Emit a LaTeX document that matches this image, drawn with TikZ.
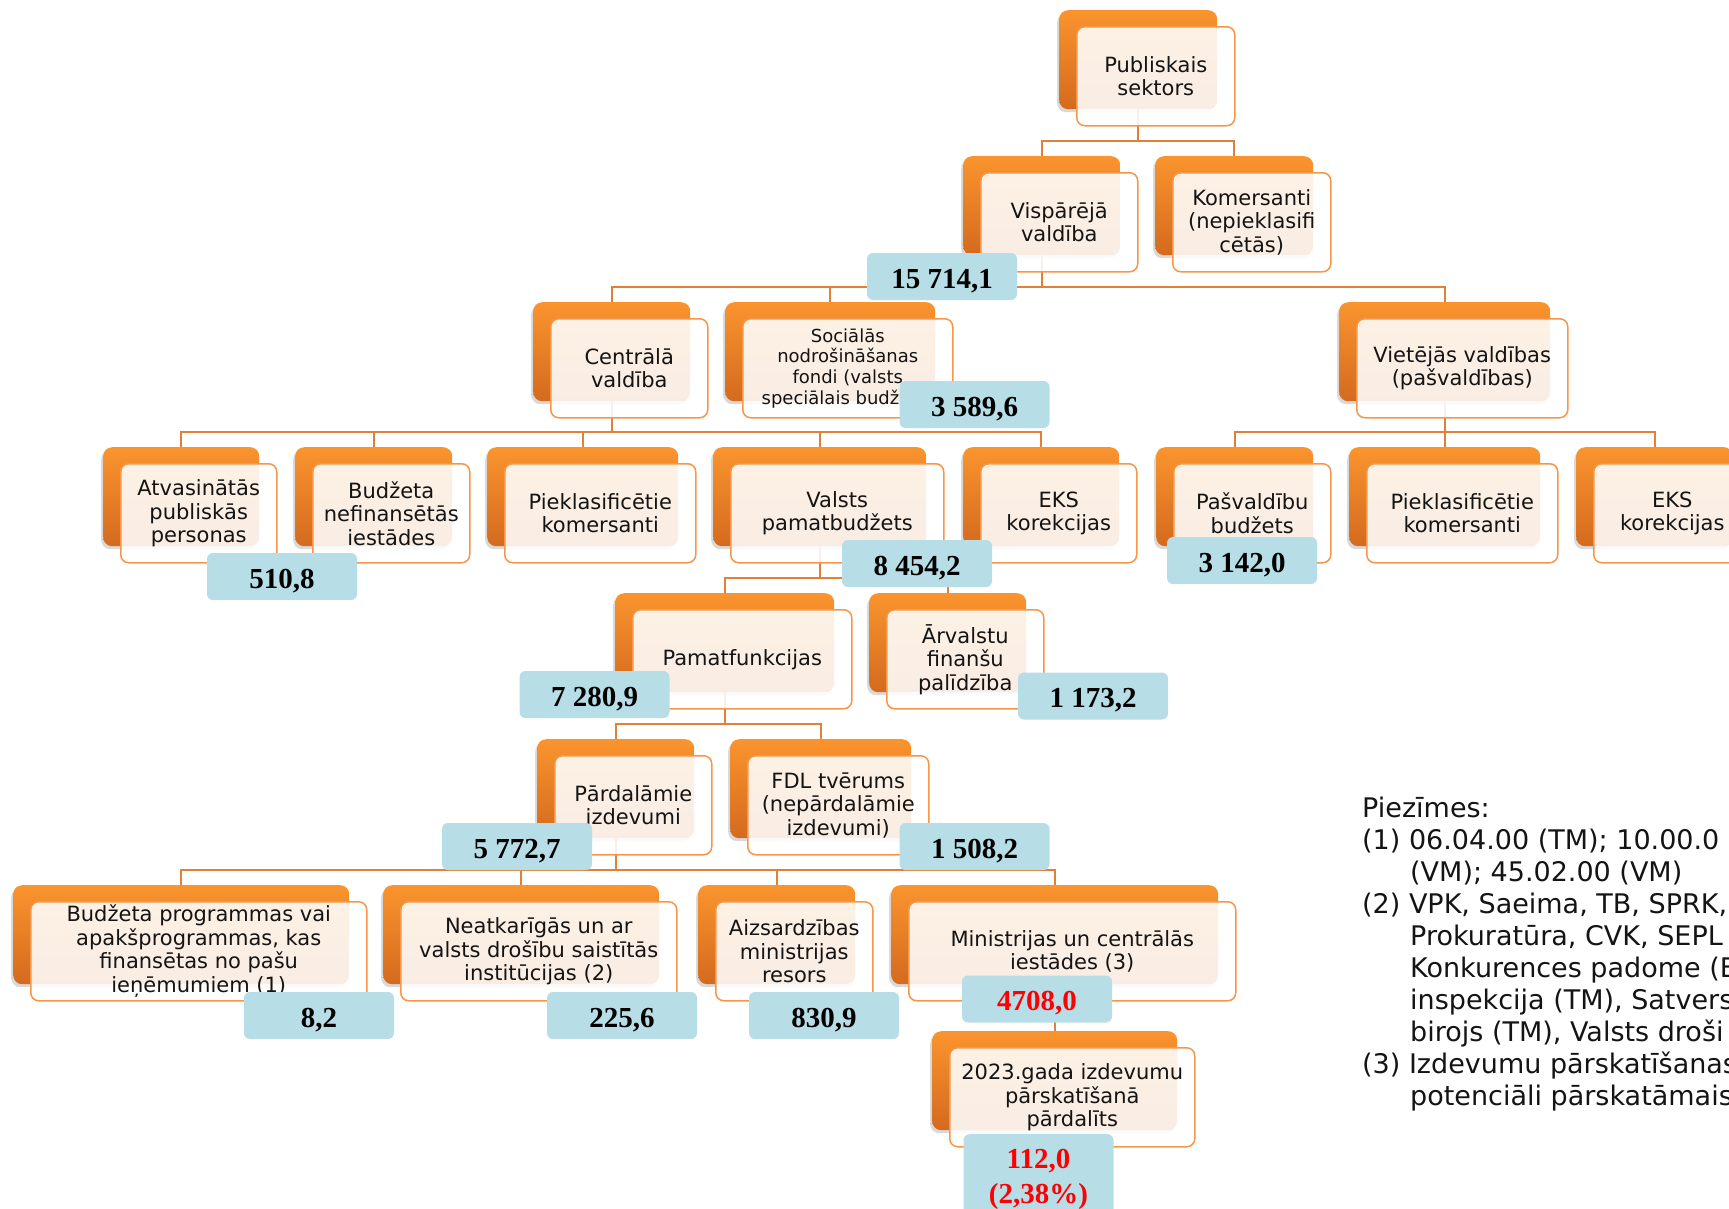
\documentclass[tikz,border=0pt]{standalone}
\usepackage{fontspec}
\setmainfont{DejaVu Sans}
\newfontfamily\numfont{Liberation Serif}
\usetikzlibrary{calc,shadows}
\definecolor{orTop}{RGB}{250,148,46}
\definecolor{orMid}{RGB}{244,138,40}
\definecolor{orBot}{RGB}{212,106,30}
\definecolor{orLine}{RGB}{247,150,72}
\definecolor{connCol}{RGB}{226,128,58}
\definecolor{numBlue}{RGB}{183,221,231}
\definecolor{numRed}{RGB}{255,0,0}
\definecolor{txtCol}{RGB}{20,20,20}
\tikzset{
  backbox/.style={rectangle, rounded corners=9pt, minimum height=99pt, inner sep=0pt,
    anchor=north west, top color=orTop, middle color=orMid, bottom color=orBot,
    drop shadow={shadow xshift=-2pt, shadow yshift=-3pt, opacity=0.15, fill=black}},
  frontbox/.style={rectangle, rounded corners=8pt, minimum height=99pt, inner sep=2pt,
    anchor=north west, draw=orLine, line width=1.5pt, fill=white, fill opacity=0.88,
    text opacity=1, text=txtCol, align=center, font=\fontsize{21}{23.5}\selectfont},
  smallfront/.style={font=\fontsize{18}{20.7}\selectfont},
  connector/.style={draw=connCol, line width=1.6pt},
  numbase/.style={rectangle, rounded corners=6pt, fill=numBlue, minimum width=150pt,
    minimum height=47pt, inner sep=0pt, align=center,
    font=\numfont\bfseries\fontsize{29}{35}\selectfont},
  numbox/.style={numbase, text height=27.5pt, text depth=4pt},
  rednum/.style={text=numRed},
  notetext/.style={anchor=base west, inner sep=0pt, text=txtCol,
    font=\fontsize{27}{32}\selectfont}
}
\newcommand\bk[3]{\node[backbox, minimum width=#3pt] (#1) at (#2) {};}
\newcommand\fr[4][]{\node[frontbox, minimum width=#3pt, #1] (#2f) at ($(#2.north west)+(17,16)$) {#4};}
\newcommand\lnk[2]{\draw[connector] (#1.south) |- ($(#2.north)+(0,-15)$) -- (#2.north);}
\begin{document}
\begin{tikzpicture}[x=1pt,y=-1pt]
\useasboundingbox (0,0) rectangle (1729,1208);
\clip (0,0) rectangle (1729,1208);
% back boxes
\bk{pub}{1059,10}{158}
\bk{visp}{963,156}{157}
\bk{kom}{1155,156}{158}
\bk{centr}{533,302}{157}
\bk{soc}{725,302}{210}
\bk{viet}{1339,302}{211}
\bk{atv}{103,447}{156}
\bk{bnf}{295,447}{157}
\bk{piek}{487,447}{191}
\bk{valsts}{713,447}{213}
\bk{eks}{963,447}{156}
\bk{pasv}{1156,447}{157}
\bk{piekb}{1349,447}{191}
\bk{eksb}{1576,447}{157}
\bk{pamf}{615,593}{219}
\bk{arv}{869,593}{157}
\bk{pard}{537,739}{157}
\bk{fdl}{730,739}{181}
\bk{bprog}{13,885}{336}
\bk{neat}{383,885}{276}
\bk{aizs}{698,885}{157}
\bk{min}{891,885}{327}
\bk{gads}{932,1031}{245}
% connectors
\lnk{pub}{visp}
\lnk{pub}{kom}
\lnk{visp}{centr}
\lnk{visp}{soc}
\lnk{visp}{viet}
\lnk{centr}{atv}
\lnk{centr}{bnf}
\lnk{centr}{piek}
\lnk{centr}{valsts}
\lnk{centr}{eks}
\lnk{viet}{pasv}
\lnk{viet}{piekb}
\lnk{viet}{eksb}
\lnk{valsts}{pamf}
\lnk{valsts}{arv}
\lnk{pamf}{pard}
\lnk{pamf}{fdl}
\lnk{pard}{bprog}
\lnk{pard}{neat}
\lnk{pard}{aizs}
\lnk{pard}{min}
\draw[connector] (min.south) -- (gads.north);
% front boxes
\fr{pub}{158}{Publiskais\\sektors}
\fr{visp}{157}{Vispārējā\\valdība}
\fr{kom}{158}{Komersanti\\(nepieklasifi\\cētās)}
\fr{centr}{157}{Centrālā\\valdība}
\fr[smallfront]{soc}{210}{Sociālās\\nodrošināšanas\\fondi (valsts\\speciālais budžets)}
\fr{viet}{211}{Vietējās valdības\\(pašvaldības)}
\fr{atv}{156}{Atvasinātās\\publiskās\\personas}
\fr{bnf}{157}{Budžeta\\nefinansētās\\iestādes}
\fr{piek}{191}{Pieklasificētie\\komersanti}
\fr{valsts}{213}{Valsts\\pamatbudžets}
\fr{eks}{156}{EKS\\korekcijas}
\fr{pasv}{157}{Pašvaldību\\budžets}
\fr{piekb}{191}{Pieklasificētie\\komersanti}
\fr{eksb}{157}{EKS\\korekcijas}
\fr{pamf}{219}{Pamatfunkcijas}
\fr{arv}{157}{Ārvalstu\\finanšu\\palīdzība}
\fr{pard}{157}{Pārdalāmie\\izdevumi}
\fr{fdl}{181}{FDL tvērums\\(nepārdalāmie\\izdevumi)}
\fr{bprog}{336}{Budžeta programmas vai\\apakšprogrammas, kas\\finansētas no pašu\\ieņēmumiem (1)}
\fr{neat}{276}{Neatkarīgās un ar\\valsts drošību saistītās\\institūcijas (2)}
\fr{aizs}{157}{Aizsardzības\\ministrijas\\resors}
\fr{min}{327}{Ministrijas un centrālās\\iestādes (3)}
\fr{gads}{245}{2023.gada izdevumu\\pārskatīšanā\\pārdalīts}
% numbers
\node[numbox] (nvisp) at (942,276.5) {15 714,1};
\node[numbox] (nsoc) at (974.5,404.5) {3 589,6};
\node[numbox] (natv) at (282,576.5) {510,8};
\node[numbox] (nvalsts) at (917,563.5) {8 454,2};
\node[numbox] (npasv) at (1242,560.5) {3 142,0};
\node[numbox] (npamf) at (594.5,694.5) {7 280,9};
\node[numbox] (narv) at (1093,696) {1 173,2};
\node[numbox] (npard) at (517,846.5) {5 772,7};
\node[numbox] (nfdl) at (974.5,846.5) {1 508,2};
\node[numbox] (nbprog) at (319,1015.5) {8,2};
\node[numbox] (nneat) at (622,1015.5) {225,6};
\node[numbox] (naizs) at (824,1015.5) {830,9};
\node[numbox, rednum] (nmin) at (1037,999) {4708,0};
\node[numbase, rednum, minimum height=90pt, anchor=north] (ngads) at (1038.5,1134) {112,0\\(2,38\%)};
% notes
\node[notetext] (t0) at (1362,817) {Piezīmes:};
\node[notetext] (t1) at (1362,849) {(1) 06.04.00 (TM); 10.00.0};
\node[notetext] (t2) at (1410,881) {(VM); 45.02.00 (VM)};
\node[notetext] (t3) at (1362,913) {(2) VPK, Saeima, TB, SPRK,};
\node[notetext] (t4) at (1410,945) {Prokuratūra, CVK, SEPL};
\node[notetext] (t5) at (1410,977) {Konkurences padome (E};
\node[notetext] (t6) at (1410,1009) {inspekcija (TM), Satvers};
\node[notetext] (t7) at (1410,1041) {birojs (TM), Valsts droši};
\node[notetext] (t8) at (1362,1073) {(3) Izdevumu pārskatīšanas};
\node[notetext] (t9) at (1410,1105) {potenciāli pārskatāmais};
\end{tikzpicture}
\end{document}
